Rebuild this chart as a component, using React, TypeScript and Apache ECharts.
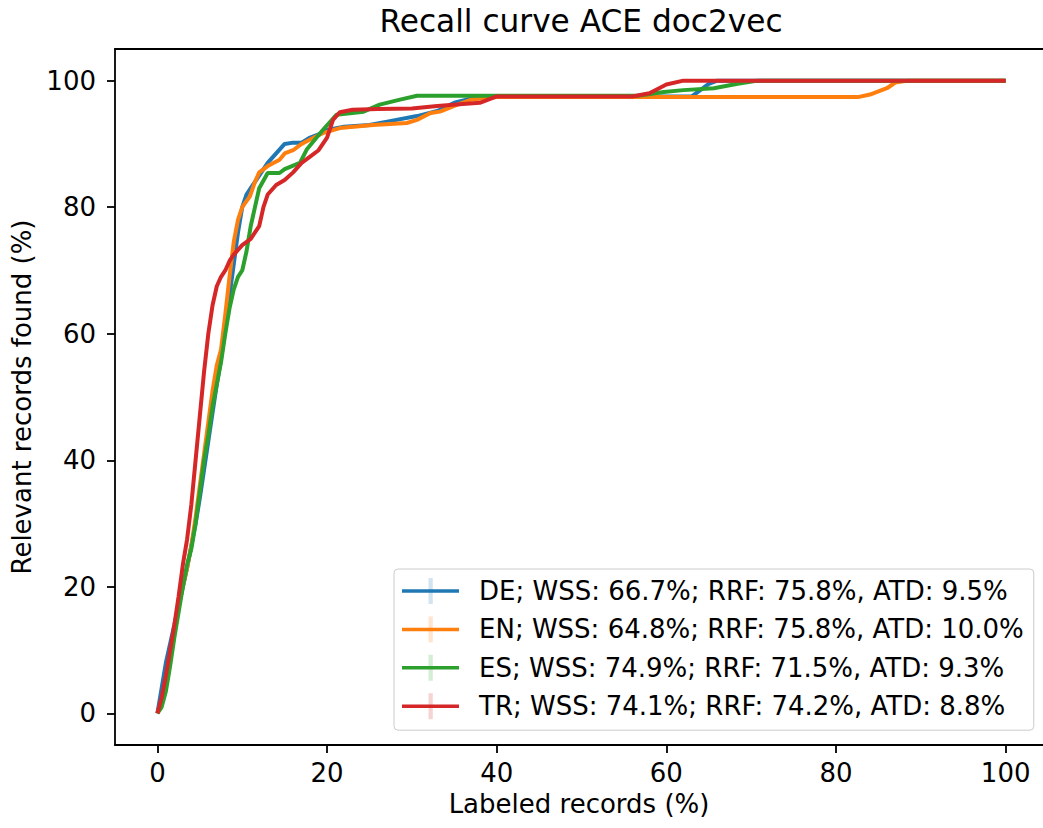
import React, { useEffect, useRef } from "react";
import * as echarts from "echarts";

const tickValues = [0, 20, 40, 60, 80, 100];

const seriesNames = [
  "DE; WSS: 66.7%; RRF: 75.8%, ATD: 9.5%",
  "EN; WSS: 64.8%; RRF: 75.8%, ATD: 10.0%",
  "ES; WSS: 74.9%; RRF: 71.5%, ATD: 9.3%",
  "TR; WSS: 74.1%; RRF: 74.2%, ATD: 8.8%",
];

const seriesColors = ["#1f77b4", "#ff7f0e", "#2ca02c", "#d62728"];
const seriesFaint = [
  "rgba(31,119,180,0.2)",
  "rgba(255,127,14,0.2)",
  "rgba(44,160,44,0.2)",
  "rgba(214,39,40,0.2)",
];

const deData = [
  [0, 0], [0.5, 4], [1, 8], [1.5, 11], [2, 14], [2.5, 17], [3, 20], [3.5, 23], [4, 26.5], [4.5, 30],
  [5, 34], [5.5, 38.5], [6, 43], [6.5, 47.5], [7, 52], [7.5, 56], [8, 61], [8.5, 66], [9, 71], [9.5, 76],
  [10, 80], [10.5, 82], [11, 83], [12, 85], [13, 87], [14, 88.5], [15, 90], [16, 90.2], [17, 90.2],
  [18, 91], [19, 91.5], [20, 92.2], [22, 92.7], [25, 93], [27.4, 93.6], [30.6, 94.4], [33, 95.2],
  [35, 96.5], [38, 97.5], [63, 97.5], [64, 98.5], [65, 99.5], [66, 100], [100, 100],
];

const enData = [
  [0, 0], [0.5, 2], [1, 5], [1.5, 9], [2, 13], [2.5, 17], [3, 20], [3.5, 23], [4, 26.5], [4.5, 31],
  [5, 36], [5.5, 41], [6, 46], [6.5, 51], [7, 55], [7.5, 57.5], [8, 63], [8.5, 69], [9, 74.5], [9.5, 78],
  [10, 80], [10.9, 81.7], [11.5, 84], [12, 85.5], [13, 86.5], [14.4, 87.5], [15, 88.5], [16, 89],
  [17, 90], [18, 90.7], [19.5, 91.7], [21.5, 92.5], [25.4, 93], [29.4, 93.3], [30.6, 93.8], [32.2, 94.9],
  [33.3, 95.1], [35, 96], [37, 97], [40, 97.4], [82.6, 97.4], [84, 97.8], [86, 98.8], [87, 99.7],
  [88.5, 100], [100, 100],
];

const esData = [
  [0, 0], [0.5, 1], [1, 3.5], [1.5, 7.5], [2, 12], [2.5, 16], [3, 20], [3.5, 23.5], [4, 26], [4.5, 30],
  [5, 35], [5.5, 40], [6, 44], [6.5, 48.5], [7, 52], [7.5, 55.5], [8, 60], [8.5, 64], [9, 67], [9.5, 69],
  [10, 70], [10.5, 73], [11, 77], [11.5, 80], [12, 83], [13, 85.4], [14.4, 85.4], [15, 86], [16.8, 87],
  [17.6, 89.1], [19.5, 92.2], [21.1, 94.6], [24.3, 95.1], [26.2, 96.2], [28.6, 97], [30.6, 97.6],
  [56.6, 97.6], [59.7, 98.2], [62, 98.5], [65.6, 98.8], [68.4, 99.5], [70.8, 100], [100, 100],
];

const trData = [
  [0, 0], [0.5, 2.5], [1, 6], [1.5, 10], [2, 14], [2.5, 18.5], [3, 23.5], [3.5, 27.5], [4, 33], [4.5, 40],
  [5, 47], [5.5, 54], [6, 60], [6.5, 64.5], [7, 67.5], [7.5, 69], [8, 70], [8.5, 71.5], [9, 72.5],
  [10, 74], [11, 75], [12, 77], [12.5, 80], [13, 82], [14, 83.5], [15, 84.3], [16, 85.5], [17, 87],
  [18, 88], [19, 89], [20, 91], [20.7, 93.8], [21.5, 95], [23, 95.4], [26, 95.5], [30, 95.6], [33, 96],
  [36, 96.3], [38, 96.5], [40, 97.5], [56, 97.5], [58, 98], [60, 99.4], [62, 100], [100, 100],
];

const allData = [deData, enData, esData, trData];

const FONT = "DejaVu Sans";
const X_MIN = -5;
const X_MAX = 104.4;

export default function App() {
  const ref = useRef<HTMLDivElement>(null);

  useEffect(() => {
    if (!ref.current) return;
    const chart = echarts.init(ref.current, null, { renderer: "svg" });
    const lineStyle = { color: "#000", width: 1.8 };
    const nameStyle = { fontFamily: FONT, fontSize: 26, color: "#000" };
    const labelStyle = { fontFamily: FONT, fontSize: 26, color: "#000" };
    chart.setOption({
      animation: false,
      backgroundColor: "#fff",
      title: {
        text: "Recall curve ACE doc2vec",
        left: 581,
        top: 5,
        textAlign: "center",
        padding: 0,
        textStyle: { fontFamily: FONT, fontSize: 31.2, fontWeight: "normal", color: "#000" },
      },
      grid: {
        left: 115,
        top: 49,
        right: 0,
        height: 696,
        show: false,
        containLabel: false,
      },
      xAxis: [
        {
          type: "value",
          min: X_MIN,
          max: X_MAX,
          position: "bottom",
          splitLine: { show: false },
          axisLine: { show: true, onZero: false, lineStyle },
          axisTick: { show: true, inside: false, length: 8, customValues: tickValues, lineStyle },
          axisLabel: { customValues: tickValues, margin: 15, ...labelStyle },
          name: "Labeled records (%)",
          nameLocation: "middle",
          nameGap: 46,
          nameTextStyle: nameStyle,
        },
        {
          type: "value",
          min: X_MIN,
          max: X_MAX,
          position: "top",
          splitLine: { show: false },
          axisLine: { show: true, onZero: false, lineStyle },
          axisTick: { show: false },
          axisLabel: { show: false },
        },
      ],
      yAxis: {
        type: "value",
        min: -5,
        max: 105,
        splitLine: { show: false },
        axisLine: { show: true, onZero: false, lineStyle },
        axisTick: { show: true, inside: false, length: 8, customValues: tickValues, lineStyle },
        axisLabel: { customValues: tickValues, margin: 19, ...labelStyle },
        name: "Relevant records found (%)",
        nameLocation: "middle",
        nameGap: 79,
        nameTextStyle: nameStyle,
      },
      legend: {
        orient: "vertical",
        left: 394,
        top: 569,
        padding: [8, 10, 10, 8],
        itemGap: 10.4,
        itemWidth: 57,
        itemHeight: 3.5,
        icon: "rect",
        backgroundColor: "rgba(255,255,255,0.8)",
        borderColor: "#cccccc",
        borderWidth: 1,
        borderRadius: 4,
        textStyle: {
          fontFamily: FONT,
          fontSize: 26,
          color: "#000",
          lineHeight: 28,
          padding: [0, 0, 0, 15],
        },
        data: seriesNames,
      },
      graphic: seriesFaint.map((c, i) => ({
        type: "rect",
        z: 200,
        shape: { x: 428.5, y: 591 + i * 38.4 - 13, width: 4.3, height: 26 },
        style: { fill: c },
        silent: true,
      })),
      series: allData.map((d, i) => ({
        name: seriesNames[i],
        type: "line",
        xAxisIndex: 0,
        data: d,
        showSymbol: false,
        symbol: "none",
        lineStyle: { color: seriesColors[i], width: 4 },
        itemStyle: { color: seriesColors[i] },
        emphasis: { disabled: true },
        z: 2 + i,
      })),
    });
    return () => chart.dispose();
  }, []);

  return (
    <div
      ref={ref}
      style={{ position: "fixed", left: 0, top: 0, width: 1043, height: 828 }}
    />
  );
}
